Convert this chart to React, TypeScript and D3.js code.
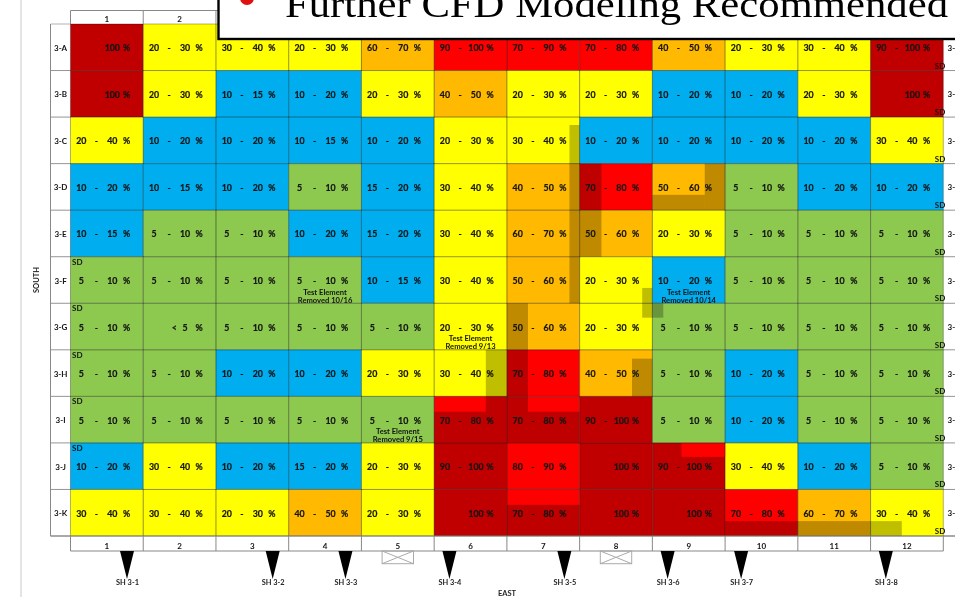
import React from "react";
import * as d3 from "d3";

const columns = ["1","2","3","4","5","6","7","8","9","10","11","12"];
const rows = ["3-A","3-B","3-C","3-D","3-E","3-F","3-G","3-H","3-I","3-J","3-K"];
// header cells not hidden by the callout box
const visibleHeader = ["1","2"];

const ranges: string[][] = [
  ["100","20-30","30-40","20-30","60-70","90-100","70-90","70-80","40-50","20-30","30-40","90-100"],
  ["100","20-30","10-15","10-20","20-30","40-50","20-30","20-30","10-20","10-20","20-30","100"],
  ["20-40","10-20","10-20","10-15","10-20","20-30","30-40","10-20","10-20","10-20","10-20","30-40"],
  ["10-20","10-15","10-20","5-10","15-20","30-40","40-50","70-80","50-60","5-10","10-20","10-20"],
  ["10-15","5-10","5-10","10-20","15-20","30-40","60-70","50-60","20-30","5-10","5-10","5-10"],
  ["5-10","5-10","5-10","5-10","10-15","30-40","50-60","20-30","10-20","5-10","5-10","5-10"],
  ["5-10","<5","5-10","5-10","5-10","20-30","50-60","20-30","5-10","5-10","5-10","5-10"],
  ["5-10","5-10","10-20","10-20","20-30","30-40","70-80","40-50","5-10","10-20","5-10","5-10"],
  ["5-10","5-10","5-10","5-10","5-10","70-80","70-80","90-100","5-10","10-20","5-10","5-10"],
  ["10-20","30-40","10-20","15-20","20-30","90-100","80-90","100","90-100","30-40","10-20","5-10"],
  ["30-40","30-40","20-30","40-50","20-30","100","70-80","100","100","70-80","60-70","30-40"],
];

const severity = [
  "DYYYORRROYYD",
  "DYBBYOYYBBYD",
  "YBBBBYYBBBBY",
  "BBBGBYOROGBB",
  "BGGBBYOOYGGG",
  "GGGGBYOYBGGG",
  "GGGGGYOYGGGG",
  "GGBBYYROGBGG",
  "GGGGGRRDGBGG",
  "BYBBYDRDDYBG",
  "YYYOYDRDDROY",
];

const palette: Record<string,string> = {
  G: "#8dc850", B: "#00aeef", Y: "#ffff00", O: "#ffb900", R: "#ff0000", D: "#c00000",
};

// [col0, col1, row0, row1] in grid units
const shadows = [
  [6.86,7,2.17,6],[7,7.3,3,5],[6,6.29,6,8],[8.72,9,3,4],[8,8.72,3.67,4],
  [7.86,8,5.67,6.31],[8,8.15,6,6.31],[5.71,6,7,8],[7.72,8,7.19,8],
  [9,11.43,10.68,11],[5.71,6,8,8.33],[5,6,8.33,9],[6,6.29,8,8.33],[6,7,8.33,9],[6,7,10.33,11],
];
const highlights = [[8.4,9,9,9.3]];

const notes = [
  { col: 3, row: 5, lines: ["Test Element","Removed 10/16"] },
  { col: 8, row: 5, lines: ["Test Element","Removed 10/14"] },
  { col: 5, row: 6, lines: ["Test Element","Removed 9/13"] },
  { col: 4, row: 8, lines: ["Test Element","Removed 9/15"] },
];

const sdLeftRows = [5,6,7,8,9];
const sdRightRows = [0,1,2,3,4,5,6,7,8,9,10];

const piers = [
  { name: "SH 3-1", at: 0.777 },{ name: "SH 3-2", at: 2.78 },{ name: "SH 3-3", at: 3.78 },
  { name: "SH 3-4", at: 5.21 },{ name: "SH 3-5", at: 6.79 },{ name: "SH 3-6", at: 8.21 },
  { name: "SH 3-7", at: 9.22 },{ name: "SH 3-8", at: 11.21 },
];
const hatches = [4.5, 7.5];

const x = d3.scaleLinear().domain([0, 12]).range([70.5, 943.3]);
const y = d3.scaleLinear().domain([0, 11]).range([24, 536]);
const font = "Lato, 'Open Sans', sans-serif";
const ink = "#141414";

function Range({ c, r, v }: { c: number; r: number; v: string }) {
  const x0 = x(c), cy = y(r + 0.5) + 0.5;
  const common = { y: cy, textAnchor: "middle" as const, dominantBaseline: "central" as const };
  const less = v.startsWith("<");
  const [lo, hi] = v.includes("-") ? v.split("-") : less ? ["<", v.slice(1)] : ["", v];
  return (
    <g>
      {lo && <text {...common} x={x0 + (less ? 31 : 10.8)}>{lo}</text>}
      {v.includes("-") && <text {...common} x={x0 + 26}>-</text>}
      <text {...common} x={x0 + 41.8}>{hi}</text>
      <text {...common} x={x0 + 56}>%</text>
    </g>
  );
}

export default function App() {
  const grid = rows.flatMap((rn, r) => columns.map((cn, c) => ({ r, c, key: rn + cn })));
  const triangle = d3.line();
  return (
    <svg width={955} height={597} style={{ position: "fixed", left: 0, top: 0, background: "#fff" }} fontFamily={font}>
      <defs>
        <filter id="soft" x="0" y="0" width="100%" height="100%">
          <feGaussianBlur stdDeviation="0.4" />
        </filter>
      </defs>
      <rect x={20} y={0} width={2} height={597} fill="#e4e4e4" />
      <g filter="url(#soft)">
        {grid.map(({ r, c, key }) => (
          <rect key={key} x={x(c)} y={y(r)} width={x(c + 1) - x(c)} height={y(r + 1) - y(r)} fill={palette[severity[r][c]]} />
        ))}
        {shadows.map((s, i) => (
          <rect key={i} x={x(s[0])} y={y(s[2])} width={x(s[1]) - x(s[0])} height={y(s[3]) - y(s[2])} fill="#000" fillOpacity={0.25} />
        ))}
        {highlights.map((s, i) => (
          <rect key={i} x={x(s[0])} y={y(s[2])} width={x(s[1]) - x(s[0])} height={y(s[3]) - y(s[2])} fill={palette.R} />
        ))}
        {d3.range(0, 13).map((i) => (
          <line key={i} x1={x(i)} x2={x(i)} y1={y(0)} y2={y(11)} stroke="#000" strokeOpacity={i === 0 || i === 12 ? 0.3 : 0.42} />
        ))}
        {d3.range(0, 12).map((i) => (
          <line key={i} x1={50.5} x2={955} y1={y(i)} y2={y(i)} stroke="#000" strokeOpacity={i === 0 ? 0.3 : 0.42} />
        ))}
        <line x1={50.5} x2={955} y1={y(11)} y2={y(11)} stroke="#888" />
        <line x1={50.5} x2={50.5} y1={y(0)} y2={y(11)} stroke="#888" />
        <line x1={x(0)} x2={x(12)} y1={10.5} y2={10.5} stroke="#888" />
        <line x1={x(0)} x2={x(12)} y1={551} y2={551} stroke="#888" />
        {d3.range(0, 13).map((i) => (
          <g key={i} stroke="#888">
            <line x1={x(i)} x2={x(i)} y1={10.5} y2={24} />
            <line x1={x(i)} x2={x(i)} y1={536} y2={551} />
          </g>
        ))}
        <g fontSize={8} fontWeight={700} fill={ink} textAnchor="middle">
          {visibleHeader.map((cn) => (
            <text key={cn} x={x(columns.indexOf(cn) + 0.5)} y={18.5} dominantBaseline="central">{cn}</text>
          ))}
          {columns.map((cn, c) => (
            <text key={cn} x={x(c + 0.5)} y={545.5} dominantBaseline="central">{cn}</text>
          ))}
          {rows.map((rn, r) => (
            <g key={rn}>
              <text x={60.6} y={y(r + 0.5) + 0.5} dominantBaseline="central">{rn}</text>
              <text x={947.5} y={y(r + 0.5) + 0.5} dominantBaseline="central" textAnchor="start">{rn}</text>
            </g>
          ))}
        </g>
        <g fontSize={8.8} fontWeight={700} fill={ink} stroke={ink} strokeWidth={0.2}>
          {grid.map(({ r, c, key }) => (
            <Range key={key} r={r} c={c} v={ranges[r][c]} />
          ))}
        </g>
        <g fontSize={8} fontWeight={700} fill={ink}>
          {sdLeftRows.map((r) => (
            <text key={r} x={x(0) + 1.5} y={y(r) + 5} dominantBaseline="central">SD</text>
          ))}
          {sdRightRows.map((r) => (
            <text key={r} x={x(12) - 8.5} y={y(r + 1) - 5} dominantBaseline="central">SD</text>
          ))}
        </g>
        <g fontSize={7.6} fontWeight={700} fill={ink} textAnchor="middle">
          {notes.map((n) => (
            <g key={n.col + "-" + n.row}>
              <text x={x(n.col + 0.5)} y={y(n.row + 1) - 11.5} dominantBaseline="central">{n.lines[0]}</text>
              <text x={x(n.col + 0.5)} y={y(n.row + 1) - 3.5} dominantBaseline="central">{n.lines[1]}</text>
            </g>
          ))}
        </g>
        {hatches.map((h) => {
          const cx = x(h), x0 = cx - 15.7, x1 = cx + 15.7;
          return (
            <g key={h} stroke="#aaa" fill="none">
              <rect x={x0} y={551} width={x1 - x0} height={12.7} />
              <line x1={x0} x2={x1} y1={551} y2={563.7} />
              <line x1={x0} x2={x1} y1={563.7} y2={551} />
            </g>
          );
        })}
        {piers.map((p) => {
          const cx = x(p.at);
          return (
            <g key={p.name}>
              <path d={triangle([[cx - 7, 551], [cx + 7, 551], [cx, 579]]) + "Z"} fill="#000" />
              <text x={cx + 0.5} y={582.5} fontSize={7.4} fontWeight={700} fill="#222" textAnchor="middle" dominantBaseline="central">{p.name}</text>
            </g>
          );
        })}
        <text transform="translate(36,280) rotate(-90)" fontSize={7.5} fontWeight={700} fill="#222" textAnchor="middle" dominantBaseline="central">SOUTH</text>
        <text x={507} y={593.5} fontSize={7.5} fontWeight={700} fill="#222" textAnchor="middle" dominantBaseline="central">EAST</text>
      </g>
      <rect x={218.5} y={-10} width={760} height={49} fill="#fff" stroke="#000" strokeWidth={2.4} />
      <circle cx={247} cy={-2} r={7} fill="#e01010" />
      <text x={285} y={17} fontFamily="'Liberation Serif', serif" fontSize={37} fill="#000" textLength={663} lengthAdjust="spacingAndGlyphs">Further CFD Modeling Recommended</text>
    </svg>
  );
}
